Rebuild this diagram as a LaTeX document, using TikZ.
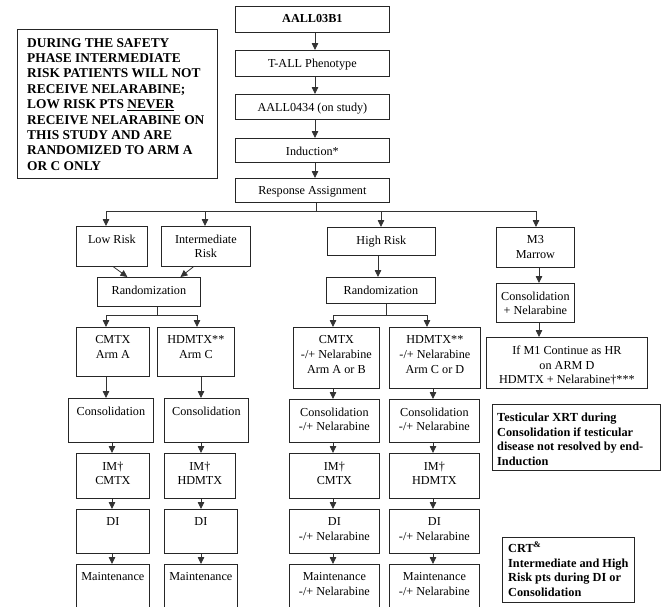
\documentclass[tikz,border=0pt]{standalone}
\usepackage{fontspec}
\setmainfont{Liberation Serif}
\usetikzlibrary{arrows.meta,calc}
\tikzset{
 box/.style={draw=black!85, line width=0.8pt, inner sep=0pt, anchor=north west},
 txt/.style={inner sep=0pt, align=center, anchor=north, font=\fontsize{12.2}{14.8}\selectfont},
 btxt/.style={inner sep=0pt, align=left, anchor=north west, font=\fontsize{12.3}{14.8}\selectfont\bfseries},
 ntxt/.style={inner sep=0pt, align=left, anchor=north west, font=\fontsize{13.4}{15.4}\selectfont\bfseries},
 arr/.style={draw=black!80, line width=0.8pt, -{Triangle[length=7pt,width=6.5pt]}},
 ln/.style={draw=black!80, line width=0.8pt},
}
\newcommand\bx[6]{%
 \pgfmathsetmacro\bxw{#4-#2}%
 \pgfmathsetmacro\bxh{#5-#3}%
 \node[box,minimum width=\bxw pt,minimum height=\bxh pt] (#1) at (#2pt,-#3pt) {};
 \node[txt] (#1t) at ([yshift=-8.5pt]#1.north) {#6};}
\begin{document}
\begin{tikzpicture}
\useasboundingbox (0,0) rectangle (661pt,-606pt);
\clip (0,0) rectangle (661pt,-606pt);
% x positions of connectors
\coordinate (xT) at (315pt,0);
\coordinate (xA) at (106pt,0);
\coordinate (xA2) at (112pt,0);
\coordinate (xC1) at (197pt,0);
\coordinate (xC) at (201pt,0);
\coordinate (xI) at (205pt,0);
\coordinate (xH) at (381pt,0);
\coordinate (xH2) at (378pt,0);
\coordinate (xB) at (333pt,0);
\coordinate (xD1) at (427pt,0);
\coordinate (xD) at (433pt,0);
\coordinate (xM) at (536pt,0);
\coordinate (xM2) at (539pt,0);
% top column
\bx{b1}{235}{6}{389}{32}{\bfseries AALL03B1}
\bx{b2}{235}{50}{389}{76}{T-ALL Phenotype}
\bx{b3}{235}{94}{389}{119}{AALL0434 (on study)}
\bx{b4}{235}{138}{389}{162}{Induction*}
\bx{b5}{235}{178}{389}{202}{Response Assignment}
% note
\node[box,minimum width=200pt,minimum height=149pt] (note) at (17pt,-29pt) {};
\node[ntxt] (notet) at ([xshift=10pt,yshift=-9pt]note.north west) {DURING THE SAFETY\\PHASE INTERMEDIATE\\RISK PATIENTS WILL NOT\\RECEIVE NELARABINE;\\LOW RISK PTS \underline{NEVER}\\RECEIVE NELARABINE ON\\THIS STUDY AND ARE\\RANDOMIZED TO ARM A\\OR C ONLY};
% risk groups
\bx{low}{76}{226}{147}{266}{Low Risk}
\bx{int}{161}{226}{250}{266}{Intermediate\\Risk}
\bx{hr}{327}{227}{435}{255}{High Risk}
\bx{m3}{496}{227}{574}{267}{M3\\Marrow}
% left branch
\bx{rand1}{97}{277}{200}{306}{Randomization}
\bx{cmtxA}{76}{327}{149}{376}{CMTX\\Arm A}
\bx{hdC}{157}{327}{234}{376}{HDMTX**\\Arm C}
\bx{consL}{68}{398}{153}{442}{Consolidation}
\bx{consC}{164}{398}{248}{442}{Consolidation}
\bx{imL}{76}{453}{149}{498}{IM†\\CMTX}
\bx{imC}{164}{453}{235}{498}{IM†\\HDMTX}
\bx{diL}{76}{509}{149}{553}{DI}
\bx{diC}{164}{509}{237}{553}{DI}
\bx{mL}{76}{564}{149}{625}{Maintenance}
\bx{mC}{164}{564}{237}{625}{Maintenance}
% high risk branch
\bx{rand2}{326}{277}{435}{303}{Randomization}
\bx{cmtxB}{293}{327}{379}{388}{CMTX\\-/+ Nelarabine\\Arm A or B}
\bx{hdD}{389}{327}{480}{388}{HDMTX**\\-/+ Nelarabine\\Arm C or D}
\bx{consB}{289}{399}{379}{442}{Consolidation\\-/+ Nelarabine}
\bx{consD}{389}{399}{479}{442}{Consolidation\\-/+ Nelarabine}
\bx{imB}{289}{453}{379}{498}{IM†\\CMTX}
\bx{imD}{389}{453}{479}{498}{IM†\\HDMTX}
\bx{diB}{289}{509}{379}{553}{DI\\-/+ Nelarabine}
\bx{diD}{389}{509}{479}{553}{DI\\-/+ Nelarabine}
\bx{mB}{289}{564}{379}{625}{Maintenance\\-/+ Nelarabine}
\bx{mD}{389}{564}{479}{625}{Maintenance\\-/+ Nelarabine}
% M3 branch
\bx{consN}{496}{283}{574}{322}{Consolidation\\+ Nelarabine}
\bx{ifm}{486}{337}{647}{388}{If M1 Continue as HR\\on ARM D\\HDMTX + Nelarabine†***}
% bold side notes
\node[box,minimum width=167.5pt,minimum height=66pt] (test) at (492pt,-404pt) {};
\node[btxt] (testt) at ([xshift=5pt,yshift=-8.5pt]test.north west) {Testicular XRT during\\Consolidation if testicular\\disease not resolved by end-\\Induction};
\node[box,minimum width=132pt,minimum height=65pt] (crt) at (502pt,-537pt) {};
\node[btxt] (crtt) at ([xshift=6pt,yshift=-5pt]crt.north west) {CRT\textsuperscript{\&}\\Intermediate and High\\Risk pts during DI or\\Consolidation};
% connectors: top column
\draw[arr] (b1.south -| xT) -- (b2.north -| xT);
\draw[arr] (b2.south -| xT) -- (b3.north -| xT);
\draw[arr] (b3.south -| xT) -- (b4.north -| xT);
\draw[arr] (b4.south -| xT) -- (b5.north -| xT);
\coordinate (br) at (316pt,-211pt);
\draw[ln] (b5.south -| br) -- (br);
\draw[ln] (br -| xA) -- (br -| xM);
\draw[arr] (br -| xA) -- (low.north -| xA);
\draw[arr] (br -| xI) -- (int.north -| xI);
\draw[arr] (br -| xH) -- (hr.north -| xH);
\draw[arr] (br -| xM) -- (m3.north -| xM);
% left branch
\draw[arr] ([xshift=1.5pt]low.south) -- ([xshift=-21.5pt]rand1.north);
\draw[arr] ([xshift=-12.5pt]int.south) -- ([xshift=31.5pt]rand1.north);
\coordinate (r1) at (157pt,-315pt);
\draw[ln] (rand1.south -| r1) -- (r1);
\draw[ln] (r1 -| xA) -- (r1 -| xC1);
\draw[arr] (r1 -| xA) -- (cmtxA.north -| xA);
\draw[arr] (r1 -| xC1) -- (hdC.north -| xC1);
\draw[arr] (cmtxA.south -| xA) -- (consL.north -| xA);
\draw[arr] (hdC.south -| xC) -- (consC.north -| xC);
\draw[arr] (consL.south -| xA2) -- (imL.north -| xA2);
\draw[arr] (consC.south -| xC) -- (imC.north -| xC);
\draw[arr] (imL.south -| xA2) -- (diL.north -| xA2);
\draw[arr] (imC.south -| xC) -- (diC.north -| xC);
\draw[arr] (diL.south -| xA2) -- (mL.north -| xA2);
\draw[arr] (diC.south -| xC) -- (mC.north -| xC);
% high risk branch
\draw[arr] (hr.south -| xH2) -- (rand2.north -| xH2);
\coordinate (r2) at (386pt,-315pt);
\draw[ln] (rand2.south -| r2) -- (r2);
\draw[ln] (r2 -| xB) -- (r2 -| xD1);
\draw[arr] (r2 -| xB) -- (cmtxB.north -| xB);
\draw[arr] (r2 -| xD1) -- (hdD.north -| xD1);
\draw[arr] (cmtxB.south -| xB) -- (consB.north -| xB);
\draw[arr] (hdD.south -| xD) -- (consD.north -| xD);
\draw[arr] (consB.south -| xB) -- (imB.north -| xB);
\draw[arr] (consD.south -| xD) -- (imD.north -| xD);
\draw[arr] (imB.south -| xB) -- (diB.north -| xB);
\draw[arr] (imD.south -| xD) -- (diD.north -| xD);
\draw[arr] (diB.south -| xB) -- (mB.north -| xB);
\draw[arr] (diD.south -| xD) -- (mD.north -| xD);
% M3 branch
\draw[arr] (m3.south -| xM2) -- (consN.north -| xM2);
\draw[arr] (consN.south -| xM2) -- (ifm.north -| xM2);
\end{tikzpicture}
\end{document}
